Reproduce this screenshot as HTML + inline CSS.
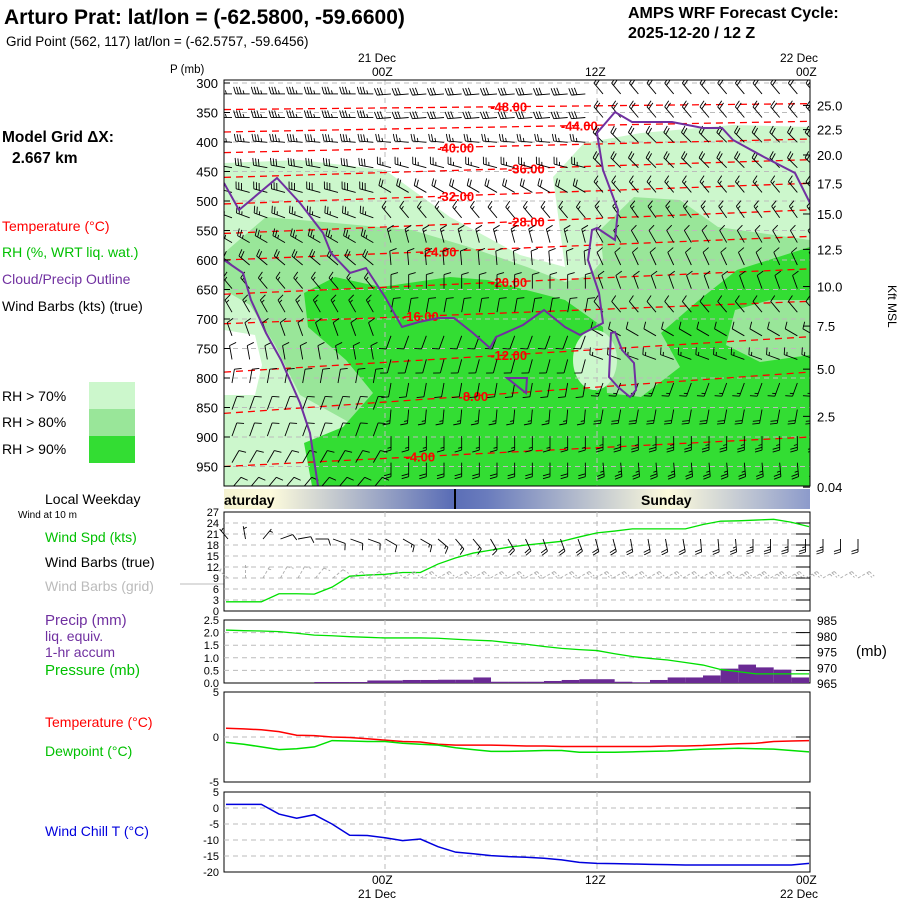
<!DOCTYPE html>
<html><head><meta charset="utf-8"><style>
body{margin:0;background:#fff;}
svg{display:block;font-family:"Liberation Sans",sans-serif;}
</style></head><body>
<svg id="s" width="900" height="900" viewBox="0 0 900 900" xmlns="http://www.w3.org/2000/svg">
<defs>
<linearGradient id="wk" x1="224" x2="809" gradientUnits="userSpaceOnUse">
<stop offset="0" stop-color="#f4f2d0"/><stop offset="0.08" stop-color="#fdfbdc"/><stop offset="0.39" stop-color="#5a6db6"/><stop offset="0.45" stop-color="#6a7cbd"/><stop offset="0.76" stop-color="#fdfbdc"/><stop offset="1" stop-color="#8d9bcb"/>
</linearGradient>
<clipPath id="mc"><rect x="224" y="80" width="586" height="406"/></clipPath>
<clipPath id="wkc"><rect x="224" y="489" width="586" height="20"/></clipPath>
</defs>
<g id="txt" font-size="14">
<text x="4" y="24" font-size="21" font-weight="bold">Arturo Prat:  lat/lon = (-62.5800, -59.6600)</text>
<text x="6" y="46" font-size="13.5">Grid Point (562, 117) lat/lon = (-62.5757, -59.6456)</text>
<text x="628" y="18" font-size="16" font-weight="bold">AMPS WRF Forecast Cycle:</text>
<text x="628" y="38" font-size="16" font-weight="bold">2025-12-20 / 12  Z</text>
<text x="2" y="142" font-size="15.5" font-weight="bold">Model Grid ΔX:</text>
<text x="12" y="163" font-size="15.5" font-weight="bold">2.667 km</text>
<text x="2" y="231" fill="#ff0000">Temperature (°C)</text>
<text x="2" y="257" fill="#00c000">RH (%, WRT liq. wat.)</text>
<text x="2" y="284" fill="#7030a0">Cloud/Precip Outline</text>
<text x="2" y="311">Wind Barbs (kts) (true)</text>
<text x="2" y="401">RH &gt; 70%</text>
<text x="2" y="427">RH &gt; 80%</text>
<text x="2" y="454">RH &gt; 90%</text>
<rect x="89" y="382" width="46" height="27" fill="#ccf7cc"/>
<rect x="89" y="409" width="46" height="27" fill="#99e699"/>
<rect x="89" y="436" width="46" height="27" fill="#33dd33"/>
<text x="170" y="73" font-size="11.5">P (mb)</text>
<text x="358" y="62" font-size="12">21 Dec</text>
<text x="372" y="76" font-size="12">00Z</text>
<text x="585" y="76" font-size="12">12Z</text>
<text x="780" y="62" font-size="12">22 Dec</text>
<text x="796" y="76" font-size="12">00Z</text>
<text x="888" y="285" font-size="12" transform="rotate(90 888 285)">Kft MSL</text>
<text x="45" y="504">Local Weekday</text>
<text x="18" y="518" font-size="10">Wind at 10 m</text>
<text x="45" y="542" fill="#00c000">Wind Spd (kts)</text>
<text x="45" y="567">Wind Barbs (true)</text>
<text x="45" y="591" fill="#bbbbbb">Wind Barbs (grid)</text>
<line x1="180" y1="584" x2="224" y2="584" stroke="#bbb"/>
<text x="45" y="625" fill="#7030a0" font-size="15">Precip (mm)</text>
<text x="45" y="641" fill="#7030a0">liq. equiv.</text>
<text x="45" y="657" fill="#7030a0">1-hr accum</text>
<text x="45" y="675" fill="#00c000" font-size="15">Pressure (mb)</text>
<text x="856" y="656" font-size="15">(mb)</text>
<text x="45" y="727" fill="#ff0000">Temperature (°C)</text>
<text x="45" y="756" fill="#00c000">Dewpoint (°C)</text>
<text x="45" y="836" fill="#0000dd">Wind Chill T (°C)</text>
<text x="372" y="884" font-size="12">00Z</text>
<text x="358" y="898" font-size="12">21 Dec</text>
<text x="585" y="884" font-size="12">12Z</text>
<text x="796" y="884" font-size="12">00Z</text>
<text x="780" y="898" font-size="12">22 Dec</text>
</g>
<rect x="224" y="489" width="586" height="20" fill="url(#wk)"/>
<line x1="455" y1="489" x2="455" y2="509" stroke="#000" stroke-width="2"/>
<text x="224" y="505" font-size="14" font-weight="bold" clip-path="url(#wkc)">aturday</text>
<text x="641" y="505" font-size="14" font-weight="bold">Sunday</text>

<g id="main" clip-path="url(#mc)">
<rect x="224" y="80" width="586" height="406" fill="#ccf7cc"/>
<polygon fill="#fff" points="224,80 810,80 810,127 733,125 641,133 584,143 553,177 560,230 565,267 520,255 450,217 385,170 300,160 224,163"/>
<polygon fill="#99e699" points="224,253 266,217 335,223 412,230 469,247 527,267 565,282 590,275 603,260 600,230 634,197 680,200 718,227 810,240 810,486 224,486"/>
<polygon fill="#ccf7cc" points="224,290 250,305 275,345 300,395 345,420 375,440 365,462 330,470 312,486 224,486"/>
<polygon fill="#fff" points="224,330 255,335 262,365 255,395 224,395"/>
<polygon fill="#33dd33" points="304,293 335,277 381,287 450,277 488,280 565,300 603,327 607,393 641,397 680,367 661,333 699,300 737,270 810,247 810,300 770,300 735,310 726,345 760,362 810,355 810,486 312,486 304,443 343,427 373,393 346,360 308,327"/>
<ellipse cx="595" cy="360" rx="22" ry="30" fill="#ccf7cc"/>
<g id="grid"></g><g id="temps"></g><g id="barbs"></g>
<g fill="none" stroke="#7030a0" stroke-width="2">
<polyline points="224,183 239,210 277,178 300,203 323,233 331,253 350,273 366,268 385,297 402,327 419,322 438,318 454,318 473,333 490,348 496,337 523,325 544,310 565,327 580,335 603,323 599,293 588,260 592,230 597,228 615,240 618,210 603,170 597,133 615,112 632,122 672,122 703,128 722,128 733,140 764,157 795,173 810,203"/>
<polyline points="224,260 243,273 251,300 266,333 281,360 300,403 310,433 318,486"/>
<polygon points="611,333 609,377 618,387 630,397 636,390 634,363 622,350 615,332"/>
<polygon points="507,378 527,378 526,393"/>
</g>
</g>
<rect x="224" y="80" width="586" height="406" fill="none" stroke="#000"/>
<g id="axes"></g>
<g id="lower"></g>
</svg>
<script>
// ---- data ----
const hours = [-9,-8,-7,-6,-5,-4,-3,-2,-1,0,1,2,3,4,5,6,7,8,9,10,11,12,13,14,15,16,17,18,19,20,21,22,23,24];
const windSpeed = [2.5,2.5,2.5,4.7,4.7,4.6,6.5,9.5,9.8,10,10.5,10.5,12.8,14.5,15.8,16.6,17.4,18,18.5,19,20.2,21.3,21.8,22.4,22.4,22.4,22.4,23.6,24.5,24.6,24.8,25,24.2,23];
const pressure = [981.8,981.6,981.5,981.3,980.8,980.2,980,979.7,979.5,979.3,979.3,979.3,979.2,978.9,978.6,978.4,977.8,977.3,976.6,976,975.6,975.3,974.3,973.4,972.8,972.3,971.5,970.7,969.3,968.6,967.9,967.9,967.9,967.9];
const precip = [0,0,0,0,0,0,0.04,0.04,0.04,0.1,0.1,0.12,0.12,0.13,0.13,0.22,0.05,0.05,0.05,0.08,0.12,0.15,0.15,0.05,0.03,0.12,0.22,0.22,0.3,0.57,0.73,0.62,0.53,0.22];
const sfcTemp = [0.97,0.9,0.8,0.6,0.2,0.15,0,-0.05,-0.2,-0.35,-0.5,-0.55,-0.8,-0.9,-0.9,-0.9,-0.95,-1,-1,-1.05,-1.05,-1.05,-1.05,-1.05,-1.05,-1,-1,-0.95,-0.85,-0.75,-0.7,-0.5,-0.45,-0.4];
const dewpoint = [-0.6,-0.8,-1.1,-1.4,-1.3,-1.1,-0.4,-0.45,-0.5,-0.5,-0.7,-0.8,-0.9,-1.2,-1.4,-1.6,-1.6,-1.55,-1.5,-1.5,-1.7,-1.7,-1.7,-1.65,-1.6,-1.55,-1.45,-1.35,-1.3,-1.25,-1.3,-1.35,-1.5,-1.65];
const windChill = [1.15,1.15,1.15,-1.9,-3.2,-2.1,-5,-8.5,-8.6,-9.3,-10.2,-9.7,-12.1,-13.8,-14.3,-14.9,-15.2,-15.4,-15.7,-16.2,-17,-17.3,-17.4,-17.5,-17.6,-17.7,-17.8,-17.8,-17.8,-17.8,-17.8,-17.8,-17.8,-17.3];
const pLevels = [300,350,400,450,500,550,600,650,700,750,800,850,900,950];
const kftLabels = ["25.0","22.5","20.0","17.5","15.0","12.5","10.0","7.5","5.0","2.5","0.04"];
const kftPressures = [338,379,422,470,522,582,645,712,785,865,985];
const isoTemps = [-48,-44,-40,-36,-32,-28,-24,-20,-16,-12,-8,-4];
const isoPressLeft = [345,383,418,460,505,555,600,658,708,790,860,950];
const isoPressRight = [335,365,395,430,470,515,560,615,670,730,790,900];
const isoLabelHour = [7,11,4,8,4,8,3,7,2,7,5,2];
const barbLevels = [310,350,392,435,477,520,562,600,640,680,720,760,800,845,890,935,978];
const barbDirEarly = [270,270,275,280,285,290,300,310,320,330,340,350,10,20,20,30,40];
const barbSpdEarly = [35,35,35,30,30,25,25,20,15,15,10,10,10,10,10,10,10];
const barbDirMid = [265,265,275,285,300,320,345,355,0,10,200,195,190,185,180,180,180];
const barbSpdMid = [30,30,25,25,20,15,15,10,10,10,10,10,10,15,15,20,20];
const barbDirLate = [320,320,315,315,320,325,330,335,340,320,300,290,200,190,180,175,170];
const barbSpdLate = [20,20,20,20,15,15,10,10,10,10,10,15,15,20,25,25,25];
const sfcBarbDir = [320,350,40,70,80,90,110,110,110,120,120,120,130,140,140,150,150,155,160,160,160,165,165,170,170,170,170,175,175,175,180,180,180,180,180,180,180];
const sfcBarbSpd = [5,5,5,10,10,10,10,10,10,10,15,15,15,15,15,15,20,20,20,20,20,20,20,20,20,20,20,20,20,25,25,25,25,25,25,20,20];
const gridBarbDir = [310,0,30,30,30,40,50,60,60,60,60,60,60,60,60,60,60,60,60,60,60,60,60,60,60,60,60,60,60,60,60,60,60,60,60,60,60];

// ---- scales ----
const X0=385, PX_H=17.667;
const xH = h => X0 + h*PX_H;
const yP = p => 83 + (p-300)*0.59;
const yWind = v => 611 - v*99/27;
const yPrec = v => 683 - v*63/2.5;
const yPres = p => 683 - (p-965)*63/20;
const yTemp = v => 737 - v*9;
const yWC = v => 792 + (5-v)*3.2;
const NS='http://www.w3.org/2000/svg';
function mk(tag, attrs, parent){const e=document.createElementNS(NS,tag);for(const k in attrs)e.setAttribute(k,attrs[k]);parent.appendChild(e);return e;}

const grid=document.getElementById('grid'), axes=document.getElementById('axes'), lower=document.getElementById('lower');
pLevels.forEach(p=>{
  const l=mk('line',{x1:224,x2:810,y1:yP(p),y2:yP(p),stroke:'#bbb','stroke-dasharray':'5,4'},grid);
  
  
  const t=mk('text',{x:218,y:yP(p)+5,'text-anchor':'end','font-size':13},axes);
  t.textContent=p;
  
  
  mk('line',{x1:224,x2:230,y1:yP(p),y2:yP(p),stroke:'#000'},axes);
});
[0,12].forEach(h=>{
  const l=mk('line',{x1:xH(h),x2:xH(h),y1:80,y2:486,stroke:'#bbb','stroke-dasharray':'5,4'},grid);
  
  
});
kftLabels.forEach((s,i)=>{
  const t=mk('text',{x:817,y:yP(kftPressures[i])+5,'font-size':13},axes);
  t.textContent=s;
  
  
  mk('line',{x1:803,x2:810,y1:yP(kftPressures[i]),y2:yP(kftPressures[i]),stroke:'#000'},axes);
});
const temps=document.getElementById('temps');
isoTemps.forEach((t,i)=>{
  const l=mk('line',{x1:224,x2:810,y1:yP(isoPressLeft[i]),y2:yP(isoPressRight[i]),stroke:'#ff0000','stroke-width':1.3,'stroke-dasharray':'7,5'},temps);
  
  
  const hx=xH(isoLabelHour[i]);
  const frac=(hx-224)/586;
  const yy=yP(isoPressLeft[i])+(yP(isoPressRight[i])-yP(isoPressLeft[i]))*frac;
  const tx=mk('text',{x:hx,y:yy+5,'text-anchor':'middle','font-size':13,'font-weight':'bold',fill:'#ff0000'},temps);
  tx.textContent=t.toFixed(2);
  
  
});
function barb(parent,x,y,dir,spd,color,L){
  const g=mk('g',{stroke:color,fill:'none','stroke-width':0.9},parent);
  const r=dir*Math.PI/180, ux=Math.sin(r), uy=-Math.cos(r);
  const px=-uy, py=ux;
  const tx=x+ux*L, ty=y+uy*L;
  mk('line',{x1:x,y1:y,x2:tx,y2:ty},g);
  let s=Math.round(spd/5)*5, pos=0;
  const fl=L*0.5, step=L*0.2;
  while(s>=50){const bx=tx-ux*pos,by=ty-uy*pos;mk('polygon',{points:`${bx},${by} ${bx+px*fl},${by+py*fl} ${bx-ux*step*1.5},${by-uy*step*1.5}`},g);pos+=step*1.8;s-=50;}
  while(s>=10){const bx=tx-ux*pos,by=ty-uy*pos;mk('line',{x1:bx,y1:by,x2:bx+px*fl+ux*2,y2:by+py*fl+uy*2},g);pos+=step;s-=10;}
  if(s>=5){if(pos===0)pos=step;const bx=tx-ux*pos,by=ty-uy*pos;mk('line',{x1:bx,y1:by,x2:bx+px*fl*0.5+ux,y2:by+py*fl*0.5+uy},g);}
  return g;
}
const bg=document.getElementById('barbs');
for(let h=-9;h<=24;h++){
  barbLevels.forEach((p,i)=>{
    let d,s;
    if(h<0){d=barbDirEarly[i];s=barbSpdEarly[i];}else if(h<12){d=barbDirMid[i];s=barbSpdMid[i];}else{d=barbDirLate[i];s=barbSpdLate[i];}
    const g=barb(bg,xH(h)+6,yP(p)+5,d,s,'#000',14);
    
    
  });
}
function panel(y0,y1,name,ticks,yf,labels,rightTicks){
  const f=mk('rect',{x:224,y:y0,width:586,height:y1-y0,fill:'none',stroke:'#000'},lower);
  
  
  ticks.forEach((v,i)=>{
    const y=yf(v);
    if(y>y0+1&&y<y1-1){const g=mk('line',{x1:224,x2:810,y1:y,y2:y,stroke:'#bbb','stroke-dasharray':'5,4'},lower);
      
      }
    if(rightTicks)mk('line',{x1:796,x2:810,y1:y,y2:y,stroke:'#000'},lower);
    const t=mk('text',{x:219,y:y+4,'text-anchor':'end','font-size':11},lower);
    t.textContent=labels[i];
    
    
  });
  [0,12].forEach(h=>{const l=mk('line',{x1:xH(h),x2:xH(h),y1:y0,y2:y1,stroke:'#bbb','stroke-dasharray':'5,4'},lower);
    
    });
}
const windTicks=[0,3,6,9,12,15,18,21,24,27];
panel(512,611,'wind-panel',windTicks,yWind,windTicks.map(String),true);
const precTicks=[0,0.5,1,1.5,2,2.5];
panel(620,683,'precip-panel',precTicks,yPrec,precTicks.map(v=>v.toFixed(1)),true);
const tTicks=[5,0,-5];
panel(692,782,'temp-panel',tTicks,yTemp,tTicks.map(String),true);
const wcTicks=[5,0,-5,-10,-15,-20];
panel(792,872,'windchill-panel',wcTicks,yWC,wcTicks.map(String),true);
const presTicks=[965,970,975,980,985];
presTicks.forEach(p=>{const t=mk('text',{x:817,y:yPres(p)+5,'font-size':12},lower);
  t.textContent=p;
  
  });
precip.forEach((v,i)=>{ if(v<=0)return;
  const r=mk('rect',{x:xH(hours[i]-1),y:yPrec(v),width:PX_H,height:683-yPrec(v),fill:'#6a2a94'},lower);
  
  
});
function line(arr,yf,color,name,w){
  const pts=arr.map((v,i)=>xH(hours[i])+','+yf(v)).join(' ');
  const l=mk('polyline',{points:pts,fill:'none',stroke:color,'stroke-width':w||1.3},lower);
  
  
}
line(windSpeed,yWind,'#00e000','wind-speed-line');
line(pressure,yPres,'#00e000','pressure-line');
line(sfcTemp,yTemp,'#ff0000','temperature-line',1.5);
line(dewpoint,yTemp,'#00e000','dewpoint-line',1.5);
line(windChill,yWC,'#0000dd','wind-chill-line',1.5);
sfcBarbDir.forEach((d,i)=>{
  const x=228+i*17.5;
  const g=barb(lower,x,539,d,sfcBarbSpd[i],'#000',13);
  
  
  const g2=barb(lower,x,578,gridBarbDir[i],sfcBarbSpd[i],'#aaa',13);
  
  
  g2.setAttribute('stroke-dasharray','3,2');
});
</script>
</body></html>
